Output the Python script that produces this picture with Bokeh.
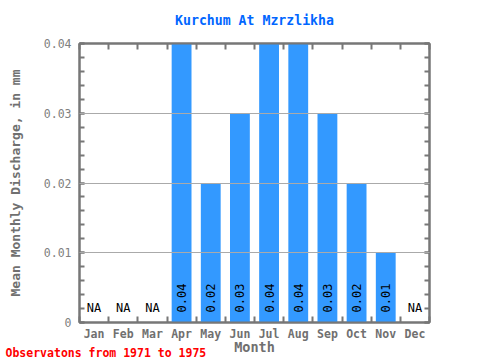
import math
from bokeh.plotting import figure
from bokeh.models import FixedTicker, LinearAxis, Range1d, Title
from bokeh.core.properties import value
from bokeh.embed import file_html
from bokeh.resources import INLINE

months = ["Jan", "Feb", "Mar", "Apr", "May", "Jun", "Jul", "Aug", "Sep", "Oct", "Nov", "Dec"]
discharge = [None, None, None, 0.04, 0.02, 0.03, 0.04, 0.04, 0.03, 0.02, 0.01, None]
y_ticks = [0, 0.01, 0.02, 0.03, 0.04]
y_tick_labels = ["0", "0.01", "0.02", "0.03", "0.04"]
title_text = "Kurchum At Mzrzlikha"
y_label = "Mean Monthly Discharge, in mm"
x_label = "Month"
note_text = "Observatons from 1971 to 1975"

FONT = "DejaVu Sans Mono"
GRAY = "#777777"

centers = [i + 0.5 for i in range(len(months))]
bar_x = [c for c, v in zip(centers, discharge) if v is not None]
bar_top = [v for v in discharge if v is not None]
bar_lbl = ["%.2f" % v for v in bar_top]
na_x = [c for c, v in zip(centers, discharge) if v is None]
na_lbl = ["NA" for _ in na_x]

p = figure(width=480, height=360, x_range=Range1d(0, 12), y_range=Range1d(0, 0.04),
           output_backend="svg", toolbar_location=None,
           min_border_left=79, min_border_right=51, min_border_top=43, min_border_bottom=38,
           x_axis_location=None, y_axis_location=None)
p.outline_line_color = GRAY
p.outline_line_width = 2
p.xgrid.visible = False

p.vbar(x=bar_x, top=bar_top, width=0.68, color="#3399ff", line_color=None)

p.ygrid.ticker = FixedTicker(ticks=[0.01, 0.02, 0.03])
p.ygrid.grid_line_color = "#aaaaaa"
p.ygrid.grid_line_width = 1
p.ygrid.level = "annotation"

p.text(x=bar_x, y=[0] * len(bar_x), text=bar_lbl, angle=math.pi / 2,
       text_align="left", text_baseline="middle", y_offset=-10,
       text_font=value(FONT), text_font_size="12px", text_color="black")
p.text(x=na_x, y=[0] * len(na_x), text=na_lbl,
       text_align="center", text_baseline="alphabetic", y_offset=-15,
       text_font=value(FONT), text_font_size="12px", text_color="black")

minor_y = [i * 0.002 for i in range(21)]
month_ticker = FixedTicker(ticks=centers, minor_ticks=list(range(13)))
y_ticker = FixedTicker(ticks=y_ticks, minor_ticks=minor_y)

def style(ax):
    ax.axis_line_color = GRAY
    ax.axis_line_width = 2
    ax.major_tick_line_color = GRAY
    ax.minor_tick_line_color = GRAY
    ax.major_tick_line_width = 2
    ax.minor_tick_line_width = 2
    ax.major_tick_out = 0
    ax.minor_tick_out = 0

xb = LinearAxis(ticker=month_ticker,
                major_label_overrides={c: m for c, m in zip(centers, months)})
style(xb)
xb.major_tick_in = 0
xb.minor_tick_in = 6
xb.major_label_standoff = 4
xb.major_label_text_font = FONT
xb.major_label_text_font_style = "bold"
xb.major_label_text_font_size = "11.5px"
xb.major_label_text_color = "#707070"
xb.axis_label = x_label
xb.axis_label_standoff = -5
xb.axis_label_text_font = FONT
xb.axis_label_text_font_style = "bold"
xb.axis_label_text_font_size = "13.5px"
xb.axis_label_text_color = "#707070"
p.add_layout(xb, "below")

xt = LinearAxis(ticker=month_ticker)
style(xt)
xt.major_tick_in = 0
xt.minor_tick_in = 6
xt.major_label_text_color = None
xt.major_label_text_font_size = "1px"
xt.major_label_standoff = 0
p.add_layout(xt, "above")

yl = LinearAxis(ticker=y_ticker,
                major_label_overrides={t: s for t, s in zip(y_ticks, y_tick_labels)})
style(yl)
yl.major_tick_in = 5
yl.minor_tick_in = 5
yl.major_label_standoff = 8
yl.major_label_text_font = FONT
yl.major_label_text_font_size = "11.5px"
yl.major_label_text_color = "#808080"
yl.axis_label = y_label
yl.axis_label_standoff = 18
yl.axis_label_text_font = FONT
yl.axis_label_text_font_style = "bold"
yl.axis_label_text_font_size = "13px"
yl.axis_label_text_color = "#707070"
p.add_layout(yl, "left")

yr = LinearAxis(ticker=y_ticker)
style(yr)
yr.major_tick_in = 5
yr.minor_tick_in = 5
yr.major_label_text_color = None
yr.major_label_text_font_size = "1px"
yr.major_label_standoff = 0
p.add_layout(yr, "right")

p.add_layout(Title(text=title_text, align="center", offset=-4.5, standoff=25.5,
                   vertical_align="top",
                   text_font=FONT, text_font_size="13.2px", text_font_style="bold",
                   text_color="#0066ff"), "above")
p.add_layout(Title(text=note_text, align="left", offset=-74, standoff=-23,
                   vertical_align="top",
                   text_font=FONT, text_font_size="11.5px", text_font_style="bold",
                   text_color="red"), "below")

open("out.html", "w").write(file_html(p, INLINE))
